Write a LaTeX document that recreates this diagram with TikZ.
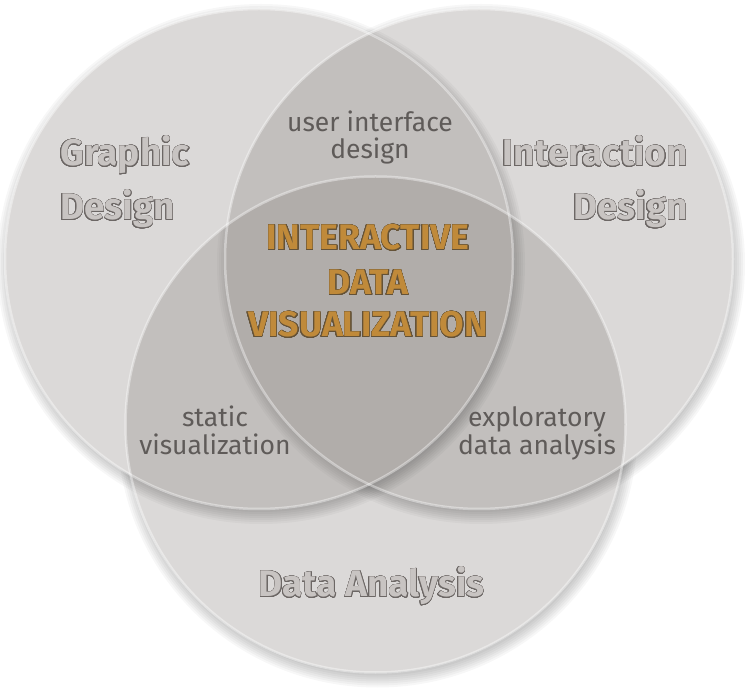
\documentclass[tikz,border=0pt]{standalone}
\usepackage{fontspec}
\setmainfont{Fira Sans}
\usepackage{contour}
\contourlength{0.45pt}
\contournumber{24}

\definecolor{tint}{RGB}{138,132,128}
\definecolor{labfill}{RGB}{200,196,194}
\definecolor{labline}{RGB}{108,103,101}
\definecolor{smalltxt}{RGB}{95,91,89}
\definecolor{goldfill}{RGB}{192,138,58}
\definecolor{goldline}{RGB}{100,82,55}

\tikzset{
  bigtxt/.style={font=\bfseries\fontsize{37}{44}\selectfont, text=labfill, inner sep=0pt},
  coretxt/.style={font=\bfseries\fontsize{35.5}{42}\selectfont, text=goldfill, inner sep=0pt, anchor=base},
  smalltxt/.style={font=\fontsize{26.5}{30}\selectfont, text=smalltxt, inner sep=0pt, anchor=base},
  disc/.style={fill=tint, fill opacity=0.3},
  rim/.style={draw=white, draw opacity=0.4, line width=2.5pt},
}

% soft shadow of an ellipse: stacked faint discs, offset down and right
\newcommand\discshadow[3]{%
  \foreach \k in {0,...,11}{
    \fill[black, opacity=0.03] ([shift={(2,5)}]#1)
      ellipse [x radius={(#2-12+2*\k)*1pt}, y radius={(#3-12+2*\k)*1pt}];
  }}

\begin{document}
\begin{tikzpicture}[x=1pt,y=-1pt]
\useasboundingbox (0,0) rectangle (745,692);
\fill[white] (0,0) rectangle (745,692);

\coordinate (cL) at (259,259);
\coordinate (cR) at (479,259);
\coordinate (cB) at (375.5,424.5);

% outer shadows on the page
\discshadow{cL}{254}{250}
\discshadow{cR}{254}{250}
\discshadow{cB}{250}{248}
\fill[white] (cL) ellipse [x radius=254pt, y radius=250pt]
             (cR) ellipse [x radius=254pt, y radius=250pt]
             (cB) ellipse [x radius=250pt, y radius=248pt];

% lowest disc: Data Analysis
\fill[disc] (cB) ellipse [x radius=250pt, y radius=248pt];

% shadow of Interaction Design falling on it
\begin{scope}
  \clip (cB) ellipse [x radius=250pt, y radius=248pt];
  \begin{scope}[even odd rule]
    \clip (-20,-20) rectangle (765,712)
          (cR) ellipse [x radius=254pt, y radius=250pt];
    \discshadow{cR}{254}{250}
  \end{scope}
\end{scope}
\fill[disc] (cR) ellipse [x radius=254pt, y radius=250pt];

% shadow of Graphic Design falling on the two discs below
\begin{scope}
  \clip (cB) ellipse [x radius=250pt, y radius=248pt]
        (cR) ellipse [x radius=254pt, y radius=250pt];
  \begin{scope}[even odd rule]
    \clip (-20,-20) rectangle (765,712)
          (cL) ellipse [x radius=254pt, y radius=250pt];
    \discshadow{cL}{254}{250}
  \end{scope}
\end{scope}
\fill[disc] (cL) ellipse [x radius=254pt, y radius=250pt];

% light rims
\draw[rim] (cB) ellipse [x radius=250pt, y radius=248pt];
\draw[rim] (cR) ellipse [x radius=254pt, y radius=250pt];
\draw[rim] (cL) ellipse [x radius=254pt, y radius=250pt];

% set names
\node[bigtxt, anchor=base west] (gd1) at (60,166) {\contour{labline}{Graphic}};
\node[bigtxt, anchor=base west] (gd2) at (60,220) {\contour{labline}{Design}};
\node[bigtxt, anchor=base east] (id1) at (688,166) {\contour{labline}{Interaction}};
\node[bigtxt, anchor=base east] (id2) at (688,220) {\contour{labline}{Design}};
\node[bigtxt, anchor=base] (da) at (371.5,597) {\contour{labline}{Data Analysis}};

% pairwise overlaps
\node[smalltxt] (ui1) at (370,132) {user interface};
\node[smalltxt] (ui2) at (370,159) {design};
\node[smalltxt] (sv1) at (215,427) {static};
\node[smalltxt] (sv2) at (215,455) {visualization};
\node[smalltxt] (ea1) at (537,427) {exploratory};
\node[smalltxt] (ea2) at (537,455) {data analysis};

% centre
\node[coretxt] (c1) at (368,250) {\contour{goldline}{INTERACTIVE}};
\node[coretxt] (c2) at (368,295) {\contour{goldline}{DATA}};
\node[coretxt] (c3) at (368,337) {\contour{goldline}{VISUALIZATION}};
\end{tikzpicture}
\end{document}
